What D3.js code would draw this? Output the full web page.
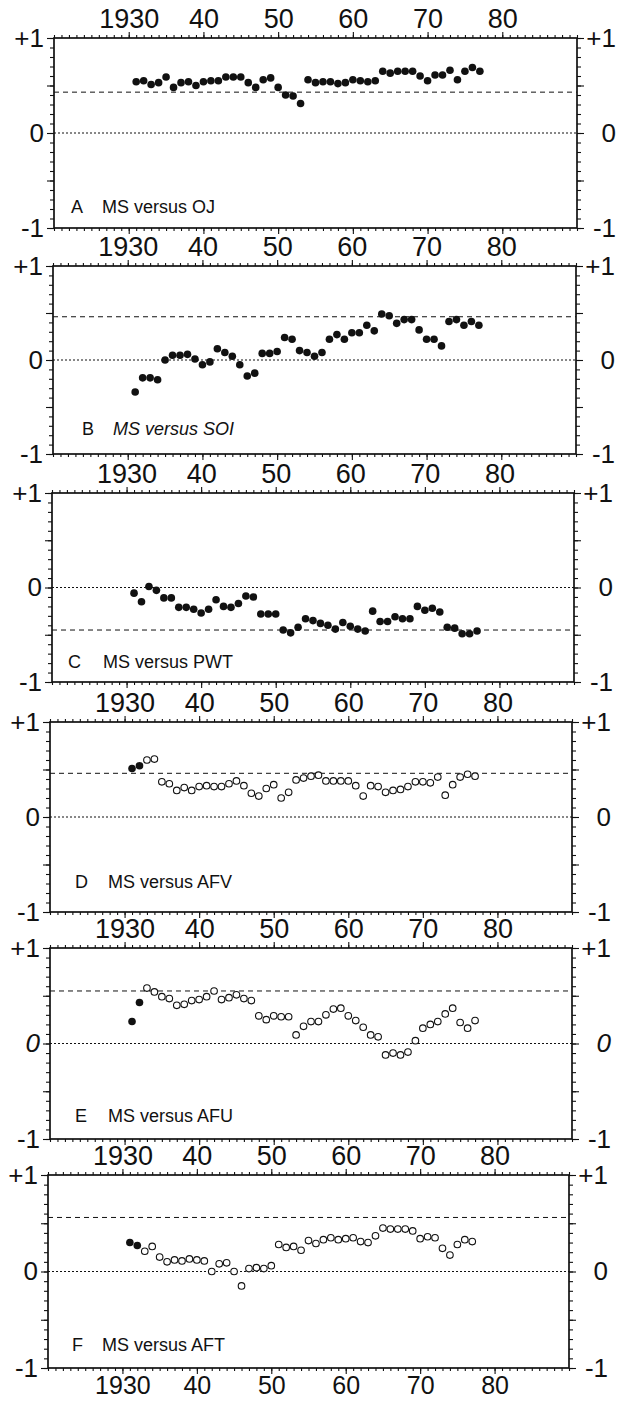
<!DOCTYPE html>
<html>
<head>
<meta charset="utf-8">
<script src="https://cdn.jsdelivr.net/npm/d3@7/dist/d3.min.js"></script>
<style>
  body { margin: 0; background: #fff; }
  svg { display: block; }
  text { font-family: "Liberation Sans", Arial, Helvetica, sans-serif; fill: #111; }
</style>
</head>
<body>
<svg></svg>
<script>
// years 1931..1977, one correlation per year
var years = [1931,1932,1933,1934,1935,1936,1937,1938,1939,1940,
  1941,1942,1943,1944,1945,1946,1947,1948,1949,1950,
  1951,1952,1953,1954,1955,1956,1957,1958,1959,1960,
  1961,1962,1963,1964,1965,1966,1967,1968,1969,1970,
  1971,1972,1973,1974,1975,1976,1977];

var msOJ = [0.54,0.55,0.51,0.53,0.59,0.48,0.53,0.54,0.50,0.54,
  0.55,0.55,0.59,0.59,0.59,0.53,0.48,0.56,0.58,0.48,
  0.40,0.39,0.31,0.56,0.53,0.54,0.54,0.52,0.53,0.56,
  0.55,0.54,0.55,0.65,0.63,0.65,0.65,0.65,0.60,0.55,
  0.61,0.61,0.66,0.56,0.65,0.69,0.65];

var msSOI = [-0.34,-0.19,-0.19,-0.21,0.00,0.05,0.05,0.06,0.01,-0.05,
  -0.02,0.12,0.08,0.04,-0.05,-0.17,-0.14,0.07,0.07,0.09,
  0.24,0.22,0.10,0.08,0.04,0.08,0.22,0.27,0.22,0.29,
  0.29,0.37,0.31,0.49,0.47,0.39,0.43,0.43,0.32,0.22,
  0.22,0.15,0.41,0.43,0.37,0.41,0.37];

var msPWT = [-0.06,-0.15,0.01,-0.03,-0.11,-0.11,-0.21,-0.21,-0.23,-0.27,
  -0.23,-0.13,-0.20,-0.21,-0.17,-0.09,-0.10,-0.28,-0.28,-0.28,
  -0.45,-0.48,-0.42,-0.33,-0.35,-0.38,-0.40,-0.44,-0.37,-0.41,
  -0.44,-0.46,-0.25,-0.36,-0.36,-0.31,-0.33,-0.33,-0.20,-0.24,
  -0.22,-0.26,-0.42,-0.43,-0.49,-0.49,-0.46];

var msAFV = [0.51,0.54,0.60,0.61,0.37,0.35,0.28,0.31,0.28,0.32,
  0.33,0.32,0.32,0.35,0.38,0.33,0.25,0.22,0.30,0.34,
  0.20,0.26,0.39,0.41,0.43,0.44,0.38,0.38,0.38,0.38,
  0.33,0.22,0.33,0.32,0.26,0.28,0.29,0.32,0.37,0.37,
  0.36,0.42,0.23,0.34,0.42,0.45,0.43];

var msAFU = [0.23,0.43,0.58,0.54,0.49,0.47,0.40,0.41,0.45,0.46,
  0.49,0.55,0.46,0.48,0.51,0.47,0.45,0.29,0.25,0.29,
  0.28,0.28,0.09,0.18,0.23,0.23,0.30,0.36,0.37,0.29,
  0.24,0.17,0.09,0.07,-0.12,-0.10,-0.12,-0.09,0.03,0.16,
  0.20,0.23,0.31,0.37,0.22,0.16,0.24];

var msAFT = [0.30,0.27,0.21,0.26,0.15,0.10,0.12,0.11,0.13,0.12,
  0.11,0.00,0.08,0.09,0.00,-0.15,0.03,0.04,0.03,0.06,
  0.28,0.25,0.26,0.22,0.32,0.29,0.33,0.35,0.33,0.34,
  0.35,0.31,0.30,0.37,0.45,0.44,0.44,0.44,0.42,0.34,
  0.36,0.35,0.24,0.17,0.28,0.33,0.31];

var panelLetters = ["A", "B", "C", "D", "E", "F"];
var panelNames = ["MS versus OJ", "MS versus SOI", "MS versus PWT", "MS versus AFV", "MS versus AFU", "MS versus AFT"];
var panelSeries = [msOJ, msSOI, msPWT, msAFV, msAFU, msAFT];
var sigLevels = [0.43, 0.46, -0.45, 0.46, 0.55, 0.56];
// how many leading years are drawn as solid dots (rest hollow)
var solidCount = [47, 47, 47, 2, 2, 2];
var decadeTicks = [1930, 1940, 1950, 1960, 1970, 1980];
var yTickLabels = ["-1", "0", "+1"];

// layout (scan is slightly skewed, so each panel has its own frame)
var frameTop = [38, 266, 493, 722, 948, 1175];
var frameBottom = [228, 454, 682, 912, 1139, 1368];
var frameLeft = [54, 53, 52, 50, 50, 48];
var frameRight = [577, 576, 574, 572, 572, 569];
var letterDx = [17, 29, 16, 25, 25, 24];
var nameDx = [48, 60, 51, 58, 58, 54];
var labelDy = [15, 19, 14, 24, 17, 17];

var svg = d3.select("svg")
    .attr("width", 619)
    .attr("height", 1401);

svg.append("rect").attr("width", 619).attr("height", 1401).attr("fill", "#fff");

panelSeries.forEach(function(series, p) {
    var w = frameRight[p] - frameLeft[p];
    var h = frameBottom[p] - frameTop[p];
    var g = svg.append("g")
        .attr("transform", "translate(" + frameLeft[p] + "," + frameTop[p] + ")");

    var x = d3.scaleLinear().domain([1920, 1990]).range([0, w]);
    var y = d3.scaleLinear().domain([-1, 1]).range([h, 0]);

    var allYears = d3.range(1920, 1991);
    var yMinor = d3.range(-10, 11).map(function(d) { return d / 10; });
    var fmtYear = function(d) { return d === 1930 ? "1930" : String(d % 100); };
    var fmtY = function(d) { return yTickLabels[d + 1]; };

    // minor ticks
    g.append("g").attr("class", "minor")
        .call(d3.axisTop(x).tickValues(allYears).tickSize(3).tickFormat(""));
    g.append("g").attr("class", "minor").attr("transform", "translate(0," + h + ")")
        .call(d3.axisBottom(x).tickValues(allYears).tickSize(3).tickFormat(""));
    g.append("g").attr("class", "minor")
        .call(d3.axisLeft(y).tickValues(yMinor).tickSize(4).tickFormat(""));
    g.append("g").attr("class", "minor").attr("transform", "translate(" + w + ",0)")
        .call(d3.axisRight(y).tickValues(yMinor).tickSize(4).tickFormat(""));

    // major ticks
    var top = g.append("g")
        .call(d3.axisTop(x).tickValues(decadeTicks).tickSize(6).tickPadding(4).tickFormat(fmtYear));
    var bottom = g.append("g").attr("transform", "translate(0," + h + ")")
        .call(d3.axisBottom(x).tickValues(decadeTicks).tickSize(6).tickPadding(2)
            .tickFormat(p === 5 ? fmtYear : ""));
    var left = g.append("g")
        .call(d3.axisLeft(y).tickValues([-1, -0.5, 0, 0.5, 1]).tickSize(7).tickPadding(3)
            .tickFormat(function(d) { return d % 1 === 0 ? fmtY(d) : ""; }));
    var right = g.append("g").attr("transform", "translate(" + w + ",0)")
        .call(d3.axisRight(y).tickValues([-1, -0.5, 0, 0.5, 1]).tickSize(7)
            .tickFormat(function(d) { return d % 1 === 0 ? fmtY(d) : ""; }));
    right.selectAll("text").attr("x", 39).attr("text-anchor", "end");

    g.selectAll(".domain").remove();
    g.selectAll(".tick line").attr("stroke", "#111").attr("stroke-width", 1.1);
    top.selectAll("text").style("font-size", "27px");
    bottom.selectAll("text").style("font-size", "25px");
    left.selectAll("text").style("font-size", "26px");
    right.selectAll("text").style("font-size", "26px");
    g.selectAll("text").attr("fill", "#111").style("font-family", '"Liberation Sans", Arial, sans-serif');
    if (p === 4) {
        left.selectAll("text").filter(function(d) { return d === 0; }).style("font-style", "italic");
        right.selectAll("text").filter(function(d) { return d === 0; }).style("font-style", "italic");
    }

    // zero line (dotted) and significance level (dashed)
    g.append("line")
        .attr("x1", 0).attr("x2", w).attr("y1", y(0)).attr("y2", y(0))
        .attr("stroke", "#111").attr("stroke-width", 1).attr("stroke-dasharray", "2,2");
    g.append("line")
        .attr("x1", 0).attr("x2", w).attr("y1", y(sigLevels[p])).attr("y2", y(sigLevels[p]))
        .attr("stroke", "#111").attr("stroke-width", 1).attr("stroke-dasharray", "5,4");

    // frame
    g.append("rect")
        .attr("width", w).attr("height", h)
        .attr("fill", "none").attr("stroke", "#111").attr("stroke-width", 1.7);

    // points
    g.selectAll("circle.pt")
        .data(series)
        .enter()
        .append("circle")
        .attr("class", "pt")
        .attr("cx", function(d, i) { return x(years[i]); })
        .attr("cy", function(d) { return y(d); })
        .attr("r", function(d, i) { return i < solidCount[p] ? 3.8 : 3.3; })
        .attr("fill", function(d, i) { return i < solidCount[p] ? "#111" : "#fff"; })
        .attr("stroke", "#111")
        .attr("stroke-width", function(d, i) { return i < solidCount[p] ? 0 : 1.1; });

    // panel label
    g.append("text")
        .attr("x", letterDx[p]).attr("y", h - labelDy[p])
        .style("font-size", "18px")
        .text(panelLetters[p]);
    g.append("text")
        .attr("x", nameDx[p]).attr("y", h - labelDy[p])
        .style("font-size", "18px")
        .style("font-style", p === 1 ? "italic" : "normal")
        .text(panelNames[p]);
});
</script>
</body>
</html>
